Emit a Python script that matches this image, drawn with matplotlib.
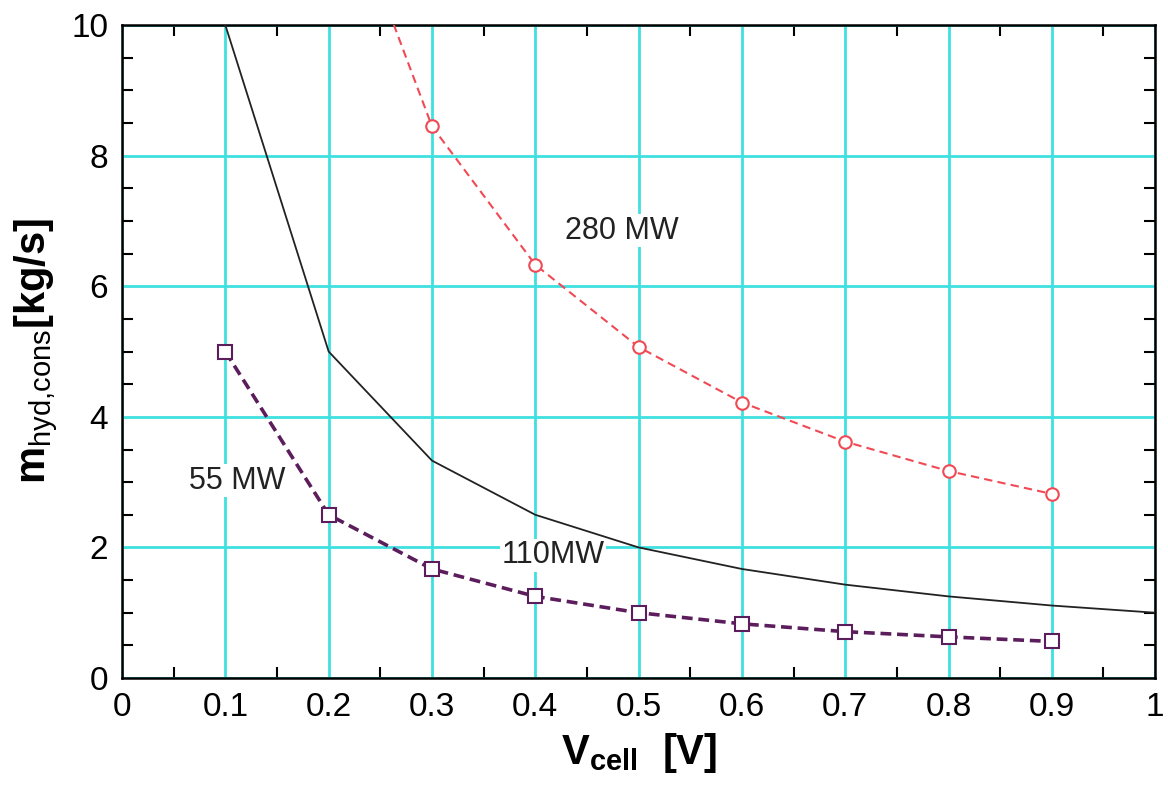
import matplotlib
matplotlib.use('Agg')
import matplotlib.pyplot as plt
from matplotlib.ticker import MultipleLocator, FuncFormatter

plt.rcParams['font.family'] = ['Liberation Sans', 'DejaVu Sans']
plt.rcParams['mathtext.fontset'] = 'custom'
plt.rcParams['mathtext.rm'] = 'Liberation Sans'
plt.rcParams['mathtext.bf'] = 'Liberation Sans:bold'

# data
v_cell = [0.1, 0.2, 0.3, 0.4, 0.5, 0.6, 0.7, 0.8, 0.9]
m_280 = [25.3, 12.66, 8.45, 6.33, 5.07, 4.22, 3.62, 3.17, 2.82]
m_55 = [5.0, 2.5, 1.67, 1.25, 1.0, 0.83, 0.71, 0.63, 0.56]
v_110 = [0.1, 0.2, 0.3, 0.4, 0.5, 0.6, 0.7, 0.8, 0.9, 1.0]
m_110 = [10.0, 5.0, 3.33, 2.5, 2.0, 1.67, 1.43, 1.25, 1.11, 1.0]

fig = plt.figure(figsize=(11.68, 7.86), dpi=100)
ax = fig.add_axes([0.1045, 0.1374, 0.8845, 0.8306])

ax.plot(v_110, m_110, color='#222222', lw=1.3, zorder=3)
ax.plot(v_cell, m_280, color='#f04a55', lw=1.5, ls=(0, (4, 2.5)), marker='o',
        ms=9, mfc='white', mec='#f04a55', mew=1.5, zorder=3)
ax.plot(v_cell, m_55, color='#5c1d5c', lw=2.6, ls=(0, (3, 1.6)), marker='s',
        ms=10, mfc='white', mec='#5c1d5c', mew=1.5, zorder=3)

bb = dict(facecolor='white', edgecolor='none', pad=1)
ax.text(0.484, 6.85, '280 MW', fontsize=22, ha='center', va='center', color='#222222', bbox=bb, zorder=4)
ax.text(0.111, 3.02, '55 MW', fontsize=22, ha='center', va='center', color='#222222', bbox=bb, zorder=4)
ax.text(0.417, 1.88, '110MW', fontsize=22, ha='center', va='center', color='#222222', bbox=bb, zorder=4)

ax.set_xlim(0, 1)
ax.set_ylim(0, 10)
ax.xaxis.set_major_locator(MultipleLocator(0.1))
ax.xaxis.set_minor_locator(MultipleLocator(0.05))
ax.yaxis.set_major_locator(MultipleLocator(2))
ax.yaxis.set_minor_locator(MultipleLocator(0.5))
ax.xaxis.set_major_formatter(FuncFormatter(lambda v, p: '%g' % round(v, 2)))
ax.yaxis.set_major_formatter(FuncFormatter(lambda v, p: '%g' % round(v, 2)))
ax.grid(True, which='major', color='#3ee0e0', lw=2)
ax.set_axisbelow(True)
ax.tick_params(which='both', direction='in', top=True, right=True, labelsize=24, pad=10)
ax.tick_params(which='major', length=0)
ax.tick_params(which='minor', length=8, width=1.5)
for s in ax.spines.values():
    s.set_linewidth(1.8)

ax.set_xlabel(r'$\mathbf{V_{cell}}$  [V]', fontsize=30, fontweight='bold', labelpad=6)
ax.set_ylabel(r'$\mathbf{m}_{\mathrm{hyd{,}cons}}$[kg/s]', fontsize=30, fontweight='bold', labelpad=8)

fig.savefig('out.png', dpi=100)
